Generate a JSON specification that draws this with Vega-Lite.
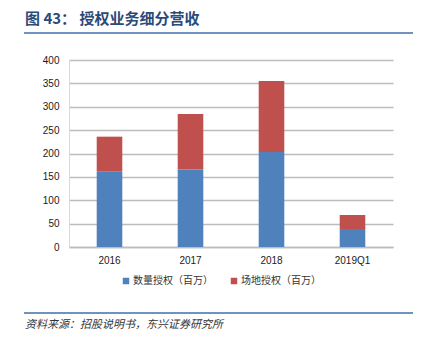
{
  "$schema": "https://vega.github.io/schema/vega-lite/v6.json",
  "autosize": "none",
  "width": 324,
  "height": 187,
  "padding": {"left": 69, "top": 60, "right": 30, "bottom": 100},
  "background": "white",
  "title": {
    "text": "图 43： 授权业务细分营收",
    "anchor": "start",
    "frame": "group",
    "dx": -44,
    "offset": 5,
    "font": "Noto Sans CJK SC",
    "fontSize": 15,
    "fontWeight": "bold",
    "color": "#2B4A78"
  },
  "config": {
    "view": {"stroke": null},
    "font": "Liberation Sans"
  },
  "layer": [
    {
      "data": {
        "values": [
          {"period": "2016", "type": "数量授权（百万）", "idx": 1, "value": 161},
          {"period": "2016", "type": "场地授权（百万）", "idx": 2, "value": 75},
          {"period": "2017", "type": "数量授权（百万）", "idx": 1, "value": 166},
          {"period": "2017", "type": "场地授权（百万）", "idx": 2, "value": 118.5},
          {"period": "2018", "type": "数量授权（百万）", "idx": 1, "value": 203},
          {"period": "2018", "type": "场地授权（百万）", "idx": 2, "value": 152},
          {"period": "2019Q1", "type": "数量授权（百万）", "idx": 1, "value": 38.5},
          {"period": "2019Q1", "type": "场地授权（百万）", "idx": 2, "value": 30}
        ]
      },
      "mark": {"type": "bar"},
      "encoding": {
        "x": {
          "field": "period",
          "type": "nominal",
          "sort": null,
          "scale": {"paddingInner": 0.684, "paddingOuter": 0.342},
          "axis": {
            "title": null,
            "labelAngle": 0,
            "ticks": false,
            "domainColor": "#BCBCBC",
            "domainWidth": 1.5,
            "labelFontSize": 10,
            "labelColor": "#1a1a1a",
            "labelPadding": 8,
            "grid": false
          }
        },
        "y": {
          "field": "value",
          "type": "quantitative",
          "stack": "zero",
          "scale": {"domain": [0, 400]},
          "axis": {
            "title": null,
            "values": [0, 50, 100, 150, 200, 250, 300, 350, 400],
            "labelOverlap": false,
            "ticks": false,
            "domainColor": "#D9D9D9",
            "grid": true,
            "gridColor": "#BCBCBC",
            "gridWidth": 1.5,
            "labelFontSize": 10,
            "labelPadding": 10,
            "labelColor": "#1a1a1a"
          }
        },
        "color": {
          "field": "type",
          "type": "nominal",
          "scale": {"domain": ["数量授权（百万）", "场地授权（百万）"], "range": ["#4F81BD", "#C0504D"]},
          "legend": {
            "orient": "none",
            "legendX": 52,
            "legendY": 216,
            "direction": "horizontal",
            "title": null,
            "symbolType": "square",
            "symbolSize": 42,
            "symbolStrokeWidth": 0,
            "labelFont": "Noto Sans CJK SC",
            "labelFontSize": 10,
            "labelColor": "#333333",
            "columnPadding": 16,
            "labelOffset": 2
          }
        },
        "order": {"field": "idx", "type": "quantitative"}
      }
    },
    {
      "data": {"values": [{"pos": 457.8}, {"pos": -141.2}]},
      "mark": {"type": "rule", "color": "#3F6FA6", "strokeWidth": 1.5, "clip": false},
      "encoding": {
        "y": {"field": "pos", "type": "quantitative", "scale": {"domain": [0, 400]}, "axis": null},
        "x": {"datum": 0, "type": "quantitative", "scale": {"domain": [0.1157, 0.9486]}, "axis": null},
        "x2": {"datum": 1}
      }
    },
    {
      "data": {"values": [{"label": "资料来源：招股说明书，东兴证券研究所"}]},
      "mark": {"type": "text", "align": "left", "baseline": "middle", "fontStyle": "italic", "font": "Noto Sans CJK SC", "fontSize": 11, "color": "#333333", "clip": false},
      "encoding": {
        "text": {"field": "label", "type": "nominal"},
        "y": {"datum": -167, "type": "quantitative", "scale": {"domain": [0, 400]}, "axis": null},
        "x": {"datum": 0.0026, "type": "quantitative", "scale": {"domain": [0.1157, 0.9486]}, "axis": null}
      }
    }
  ],
  "resolve": {"scale": {"x": "independent", "y": "independent"}}
}
